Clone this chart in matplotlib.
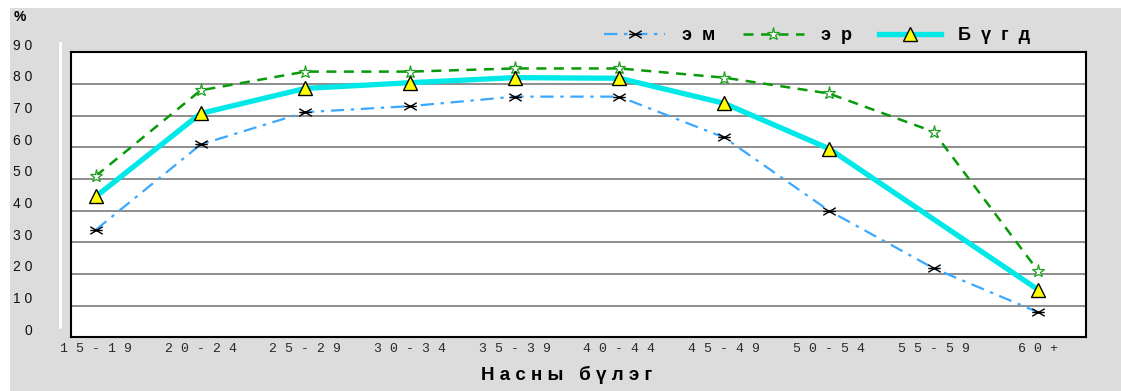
import numpy as np
import matplotlib
matplotlib.use("Agg")
from matplotlib import pyplot as plt
from matplotlib.transforms import ScaledTranslation
from matplotlib.patches import Rectangle
from matplotlib.lines import Line2D
from matplotlib.path import Path

categories = ['15-19', '20-24', '25-29', '30-34', '35-39',
              '40-44', '45-49', '50-54', '55-59', '60+']
em = [34.0, 60.9, 71.1, 73.0, 76.0, 76.0, 63.1, 40.0, 21.8, 7.9]
er = [51.0, 78.0, 83.9, 83.9, 84.9, 84.9, 82.0, 77.0, 64.9, 20.9]
bugd = [44.5, 70.7, 78.6, 80.4, 82.0, 81.8, 73.9, 59.6, np.nan, 15.0]
yticks = [0, 10, 20, 30, 40, 50, 60, 70, 80, 90]
series_names = ['эм', 'эр', 'Бүгд']


def spaced(s, gap=' '):
    return gap.join(s)


W, H = 1121, 391
fig = plt.figure(figsize=(W / 100, H / 100), dpi=100, facecolor='white')

# grey chart area (white strip top/left)
fig.patches.append(Rectangle((10 / W, 0), 1 - 10 / W, 1 - 8 / H,
                             transform=fig.transFigure, facecolor='#dcdcdc',
                             edgecolor='none', zorder=0))
# thin white line left of plot
fig.lines.append(Line2D([60 / W, 60 / W], [1 - 327 / H, 1 - 43 / H],
                        transform=fig.transFigure, color='white', lw=2, zorder=1))

ax = fig.add_axes([71 / W, 1 - 337.3 / H, (1086 - 71) / W, (337.3 - 52.3) / H])
ax.set_zorder(2)
ax.set_facecolor('white')

x = np.arange(len(categories))
ax.set_xlim(-0.239, 9.456)
ax.set_ylim(0, 90)

for v in yticks[1:-1]:
    ax.axhline(v, color='#7a7a7a', lw=1.2, zorder=1)

# excel style asterisk: horizontal bar + flat X
ast = Path([(-1, 0), (1, 0), (-1, -0.6), (1, 0.6), (-1, 0.6), (1, -0.6)],
           [Path.MOVETO, Path.LINETO] * 3)
# эм
ax.plot(x, em, color='#3aa8ff', lw=1.6, dashes=(6, 3, 1.5, 3), zorder=3)
ax.plot(x, em, ls='none', marker=ast, ms=9, mec='black', mew=1.0, zorder=5)
# эр
ax.plot(x, er, color='#089a08', lw=1.8, dashes=(4, 3), zorder=4)
ax.plot(x, er, ls='none', marker='*', ms=9.5, mfc='white', mec='#20a020', mew=0.9, zorder=6)
# Бүгд (no value for 55-59, points connected)
b = np.array(bugd)
ok = ~np.isnan(b)
ax.plot(x[ok], b[ok], color='#00e8e8', lw=3.8, zorder=4.5, solid_capstyle='butt')
ax.plot(x[ok], b[ok], ls='none', marker='^', ms=10, mfc='#ffff00', mec='black', mew=1.0, zorder=7)

for side in ax.spines.values():
    side.set_color('black')
    side.set_linewidth(1.5)

ax.set_xticks(x)
ax.set_xticklabels([spaced(c) for c in categories], family='Liberation Mono',
                   fontsize=9.5, color='#2a2a2a')
ax.set_yticks(yticks)
ax.set_yticklabels([spaced(str(v)) for v in yticks], family='Liberation Sans',
                   fontsize=10, color='#111111')
ax.tick_params(axis='both', length=0)
ax.tick_params(axis='x', pad=4)
ax.tick_params(axis='y', pad=28)
shift = ScaledTranslation(0, 0.08, fig.dpi_scale_trans)
for lab in ax.get_yticklabels():
    lab.set_transform(lab.get_transform() + shift)

fig.text(14 / W, 1 - 17 / H, '%', family='Liberation Sans', fontsize=10,
         fontweight='bold', va='center', ha='left')
fig.text(567 / W, 1 - 374.5 / H, 'Н а с н ы   б ү л э г', family='Liberation Sans',
         fontsize=13.5, fontweight='bold', ha='center', va='center')

handles = [
    Line2D([], [], color='#3aa8ff', lw=1.6, dashes=(6, 3, 1.5, 3),
           marker=ast, ms=9, mec='black', mew=1.0),
    Line2D([], [], color='#089a08', lw=1.8, dashes=(4, 3),
           marker='*', ms=9.5, mfc='white', mec='#20a020', mew=0.9),
    Line2D([], [], color='#00e8e8', lw=3.8,
           marker='^', ms=10, mfc='#ffff00', mec='black', mew=1.0),
]
fig.legend(handles, [spaced(n, '  ') for n in series_names], ncol=3, frameon=False,
           loc='center right', bbox_to_anchor=(1030 / W, 1 - 36 / H),
           prop={'family': 'Liberation Sans', 'weight': 'bold', 'size': 13},
           handlelength=3.4, handletextpad=0.95, columnspacing=1.5,
           borderpad=0, borderaxespad=0)

fig.savefig('out.png', dpi=100, facecolor=fig.get_facecolor())
